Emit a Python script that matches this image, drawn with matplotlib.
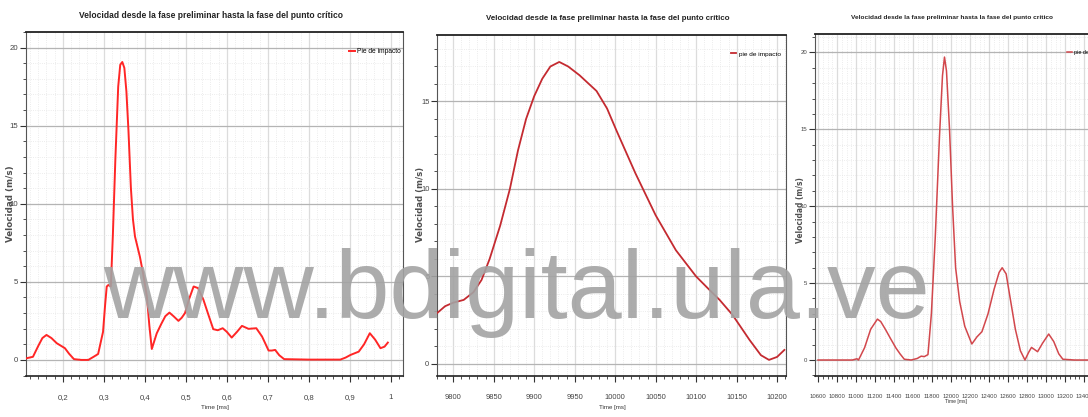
import matplotlib
matplotlib.use("Agg")
import matplotlib.pyplot as plt
from matplotlib import font_manager as fm
from matplotlib.ticker import MultipleLocator, FuncFormatter

# --- data ---
t1 = [0.11, 0.127, 0.14, 0.15, 0.160, 0.172, 0.185, 0.205, 0.215, 0.227, 0.245, 0.262,
      0.275, 0.286, 0.298, 0.303, 0.307, 0.311, 0.317, 0.322, 0.328, 0.335, 0.340, 0.345,
      0.350, 0.355, 0.360, 0.366, 0.371, 0.376, 0.388, 0.396, 0.405, 0.411, 0.417, 0.423,
      0.429, 0.440, 0.450, 0.460, 0.470, 0.482, 0.490, 0.498, 0.508, 0.519, 0.530, 0.543,
      0.555, 0.567, 0.578, 0.590, 0.600, 0.612, 0.625, 0.637, 0.653, 0.672, 0.686, 0.702,
      0.710, 0.718, 0.728, 0.740, 0.800, 0.877, 0.890, 0.902, 0.922, 0.935, 0.949, 0.962,
      0.975, 0.985, 0.993]
v1 = [0.1, 0.2, 0.9, 1.4, 1.6, 1.4, 1.07, 0.75, 0.4, 0.05, 0.0, 0.0,
      0.2, 0.38, 1.8, 3.5, 4.7, 4.8, 4.7, 8.0, 12.8, 17.5, 18.9, 19.08,
      18.7, 17.2, 14.7, 11.0, 9.0, 7.9, 6.6, 5.5, 4.06, 2.2, 0.7, 1.2,
      1.7, 2.3, 2.8, 3.03, 2.8, 2.5, 2.7, 3.0, 3.9, 4.7, 4.6, 3.85,
      2.9, 1.97, 1.9, 2.03, 1.8, 1.43, 1.8, 2.18, 1.99, 2.03, 1.5, 0.6,
      0.6, 0.64, 0.3, 0.05, 0.02, 0.02, 0.15, 0.32, 0.53, 1.0, 1.71, 1.3,
      0.75, 0.85, 1.11]

t2 = [9780, 9790, 9800, 9813, 9825, 9835, 9845, 9858, 9870, 9880, 9890, 9900, 9910,
      9920, 9931, 9942, 9956, 9977, 9990, 10002, 10025, 10050, 10075, 10100, 10115,
      10129, 10145, 10166, 10180, 10190, 10200, 10209]
v2 = [2.9, 3.3, 3.5, 3.66, 4.1, 4.8, 6.0, 7.9, 10.0, 12.2, 14.0, 15.3, 16.3,
      17.0, 17.26, 17.0, 16.5, 15.6, 14.6, 13.3, 10.9, 8.5, 6.5, 5.0, 4.3,
      3.66, 2.8, 1.37, 0.5, 0.23, 0.4, 0.8]

t3 = [10600, 10800, 10960, 11010, 11026, 11090, 11154, 11225, 11260, 11313, 11367, 11420,
      11463, 11508, 11580, 11644, 11686, 11718, 11757, 11793, 11834, 11878, 11910, 11931,
      11952, 11984, 12016, 12048, 12091, 12144, 12219, 12272, 12325, 12389, 12453, 12506,
      12538, 12580, 12623, 12677, 12730, 12778, 12817, 12847, 12911, 12964, 13028, 13081,
      13134, 13177, 13300, 13460]
v3 = [0.0, 0.0, 0.0, 0.08, 0.0, 0.8, 2.0, 2.66, 2.5, 1.95, 1.35, 0.78,
      0.4, 0.05, 0.0, 0.1, 0.25, 0.22, 0.35, 3.0, 8.0, 14.5, 18.5, 19.7,
      18.8, 15.0, 10.0, 6.0, 3.8, 2.2, 1.04, 1.5, 1.84, 3.0, 4.6, 5.7,
      6.0, 5.6, 4.0, 2.0, 0.6, 0.0, 0.5, 0.82, 0.54, 1.1, 1.69, 1.2,
      0.4, 0.05, 0.0, 0.0]

title = "Velocidad desde la fase preliminar hasta la fase del punto crítico"
W, H = 1088, 417

fp_reg = fm.FontProperties(family=['Liberation Sans', 'DejaVu Sans'])
fp_bold = fm.FontProperties(family=['Liberation Sans', 'DejaVu Sans'], weight='bold')
ylab_fp = fm.FontProperties(family='DejaVu Sans', weight='bold')


def box(l, t, r, b):
    return [l / W, (H - b) / H, (r - l) / W, (b - t) / H]


fig = plt.figure(figsize=(W / 100, H / 100), dpi=100)
renderer = fig.canvas.get_renderer()


def fit(s, target_px, fp, rot=0):
    # font size that gives the text the wanted length in pixels
    t = fig.text(0, 0, s, fontsize=10, fontproperties=fp, rotation=rot)
    ext = t.get_window_extent(renderer)
    t.remove()
    size = ext.height if rot else ext.width
    return 10 * target_px / size


panels = [
    dict(rect=box(26, 32, 403, 376), t=t1, v=v1, color='#ff2626', lw=1.4, xlim=(0.11, 1.03),
         ylim=(-1.03, 21.0), xmaj=0.1, xmin=0.02, label='Pie de impacto',
         title_xy=(211, 16), title_w=262, leg_xy=(401, 48), leg_w=44, ylab_xy=(11, 204), ylab_h=77,
         xlab_xy=(215, 408), xlab_w=28, tick_fs=5.6),
    dict(rect=box(437, 35, 786, 376), t=t2, v=v2, color='#c42a30', lw=1.3, xlim=(9780, 10211),
         ylim=(-0.69, 18.8), xmaj=50, xmin=10, label='pie de impacto',
         title_xy=(608, 19), title_w=242, leg_xy=(781, 51), leg_w=42, ylab_xy=(421, 204), ylab_h=75,
         xlab_xy=(612, 408), xlab_w=27, tick_fs=5.4),
    dict(rect=box(815, 34, 1104, 376), t=t3, v=v3, color='#d2474c', lw=1.1, xlim=(10568, 13610),
         ylim=(-1.04, 21.2), xmaj=200, xmin=50, label='pie de impacto',
         title_xy=(952, 18), title_w=198, leg_xy=(1110, 50), leg_w=36, ylab_xy=(801, 210), ylab_h=66,
         xlab_xy=(956, 402), xlab_w=22, tick_fs=4.3),
]

for i, p in enumerate(panels):
    ax = fig.add_axes(p['rect'])
    ax.plot(p['t'], p['v'], color=p['color'], lw=p['lw'], label=p['label'], zorder=3)
    ax.set_xlim(*p['xlim'])
    ax.set_ylim(*p['ylim'])
    ax.xaxis.set_major_locator(MultipleLocator(p['xmaj']))
    ax.xaxis.set_minor_locator(MultipleLocator(p['xmin']))
    ax.yaxis.set_major_locator(MultipleLocator(5))
    ax.yaxis.set_minor_locator(MultipleLocator(1))
    if i == 0:
        ax.xaxis.set_major_formatter(FuncFormatter(lambda x, _: ('%g' % round(x, 2)).replace('.', ',')))
    else:
        ax.xaxis.set_major_formatter(FuncFormatter(lambda x, _: '%d' % round(x)))
    ax.yaxis.set_major_formatter(FuncFormatter(lambda y, _: '%d' % round(y)))
    ax.grid(which='major', axis='y', color='#b4b4b4', lw=0.9)
    ax.grid(which='major', axis='x', color='#dcdcdc', lw=0.9)
    ax.grid(which='minor', color='#e6e6e6', lw=0.6, ls=':')
    ax.set_axisbelow(True)
    ax.tick_params(which='both', direction='out', colors='#333333', labelcolor='#444444',
                   labelsize=p['tick_fs'])
    ax.tick_params(which='major', length=4, width=0.8)
    ax.tick_params(which='minor', length=2.5, width=0.6)
    ax.tick_params(axis='x', which='major', pad=9)
    ax.tick_params(axis='y', which='major', pad=1.5)
    for s in ax.spines.values():
        s.set_color('#555555')
        s.set_linewidth(0.8)
    ax.spines['top'].set_color('#222222')
    ax.spines['top'].set_linewidth(1.3)
    ax.spines['bottom'].set_color('#222222')
    ax.spines['bottom'].set_linewidth(1.2)
    for lab in ax.get_xticklabels() + ax.get_yticklabels():
        lab.set_family(['Liberation Sans', 'DejaVu Sans'])

    leg_fp = fp_reg.copy()
    leg_fp.set_size(fit(p['label'], p['leg_w'], fp_reg))
    ax.legend(loc='upper right', bbox_to_anchor=(p['leg_xy'][0] / W, 1 - p['leg_xy'][1] / H),
              bbox_transform=fig.transFigure, frameon=False, prop=leg_fp,
              handlelength=0.9, handletextpad=0.4, borderpad=0, borderaxespad=0)

    fig.text(p['title_xy'][0] / W, 1 - p['title_xy'][1] / H, title, ha='center', va='center',
             fontproperties=fp_bold, fontsize=fit(title, p['title_w'], fp_bold), color='#222222')
    fig.text(p['ylab_xy'][0] / W, 1 - p['ylab_xy'][1] / H, 'Velocidad (m/s)', rotation=90,
             ha='center', va='center', fontproperties=ylab_fp,
             fontsize=fit('Velocidad (m/s)', p['ylab_h'], ylab_fp, rot=90), color='#505050')
    fig.text(p['xlab_xy'][0] / W, 1 - p['xlab_xy'][1] / H, 'Time [ms]', ha='center',
             va='center', fontproperties=fp_reg, fontsize=fit('Time [ms]', p['xlab_w'], fp_reg),
             color='#333333')

# watermark over the whole picture
fig.text(517 / W, 1 - 318 / H, 'www.bdigital.ula.ve', ha='center', va='baseline',
         fontsize=70, color='#a3a3a3', alpha=0.9, family=['Liberation Sans', 'DejaVu Sans'],
         zorder=10)

fig.savefig('out.png', dpi=100)
